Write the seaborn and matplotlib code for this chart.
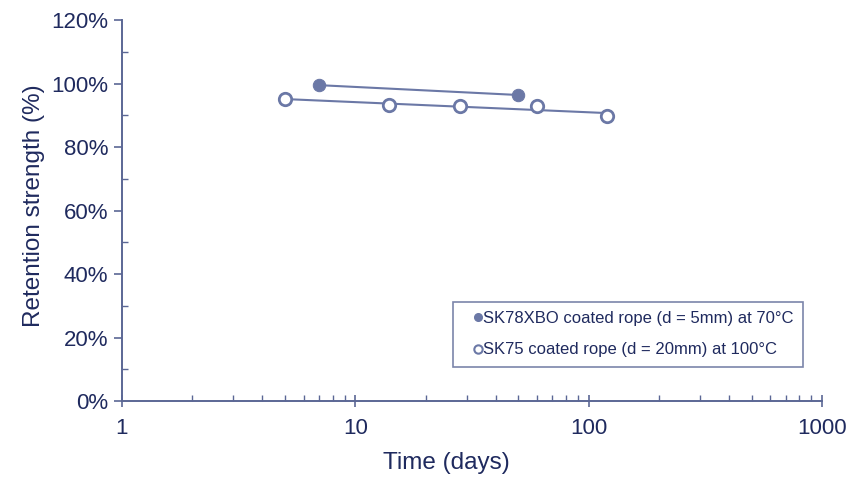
import matplotlib
matplotlib.use("Agg")
import matplotlib.pyplot as plt
import matplotlib.ticker as mticker
import seaborn as sns
import pandas as pd
import numpy as np

# Data
sk78_days = [7, 50]
sk78_retention = [99.5, 96.4]
sk75_days = [5, 14, 28, 60, 120]
sk75_retention = [95.1, 93.2, 92.9, 92.9, 89.8]

sk78_label = 'SK78XBO coated rope (d = 5mm) at 70°C'
sk75_label = 'SK75 coated rope (d = 20mm) at 100°C'

mark_color = '#6b78a6'
text_color = '#1f2a5e'
axis_color = '#5b6795'

sns.set_style("white")
plt.rcParams['font.family'] = ['Liberation Sans', 'DejaVu Sans']

sk78_df = pd.DataFrame({'days': sk78_days, 'retention': sk78_retention})
sk75_df = pd.DataFrame({'days': sk75_days, 'retention': sk75_retention})

fig = plt.figure(figsize=(8.67, 4.78), dpi=100)
ax = fig.add_axes([0.1407, 0.161, 0.8073, 0.797])

# Trend lines (fit on log time)
sns.regplot(data=sk78_df, x='days', y='retention', logx=True, ci=None,
            scatter=False, ax=ax, line_kws={'color': mark_color, 'lw': 1.5})
sns.regplot(data=sk75_df, x='days', y='retention', logx=True, ci=None,
            scatter=False, ax=ax, line_kws={'color': mark_color, 'lw': 1.5})

sns.scatterplot(data=sk78_df, x='days', y='retention', ax=ax, s=80,
                color=mark_color, edgecolor=mark_color, zorder=3)
sns.scatterplot(data=sk75_df, x='days', y='retention', ax=ax, s=80,
                facecolor='white', edgecolor=mark_color, linewidth=2.0, zorder=3)

ax.set_xscale('log')
ax.set_xlim(1, 1000)
ax.set_ylim(0, 120)
ax.xaxis.set_major_locator(mticker.FixedLocator([1, 10, 100, 1000]))
ax.xaxis.set_major_formatter(mticker.FixedFormatter(['1', '10', '100', '1000']))
ax.xaxis.set_minor_locator(mticker.LogLocator(base=10, subs=np.arange(2, 10), numticks=20))
ax.xaxis.set_minor_formatter(mticker.NullFormatter())
ax.yaxis.set_major_locator(mticker.MultipleLocator(20))
ax.yaxis.set_minor_locator(mticker.MultipleLocator(10))
ax.yaxis.set_major_formatter(mticker.FuncFormatter(lambda v, p: f'{v:.0f}%'))

for side in ['top', 'right']:
    ax.spines[side].set_visible(False)
for side in ['left', 'bottom']:
    ax.spines[side].set_color(axis_color)
    ax.spines[side].set_linewidth(1.4)

ax.tick_params(axis='both', which='major', colors=axis_color, labelcolor=text_color,
               labelsize=16, width=1.2, left=True, bottom=True)
ax.tick_params(axis='x', which='major', direction='inout', length=9, pad=8)
ax.tick_params(axis='y', which='major', direction='out', length=6, pad=4)
ax.tick_params(axis='both', which='minor', direction='in', length=4.5, width=1.0,
               colors=axis_color, left=True, bottom=True)

ax.set_xlabel('Time (days)', fontsize=17.5, color=text_color)
ax.xaxis.set_label_coords(0.463, -0.134)
ax.set_ylabel('Retention strength (%)', fontsize=17.5, color=text_color)
ax.yaxis.set_label_coords(-0.11, 0.514)

handles = [
    plt.Line2D([], [], ls='none', marker='o', ms=5.5, color=mark_color, label=sk78_label),
    plt.Line2D([], [], ls='none', marker='o', ms=6, mfc='white', mec=mark_color,
               mew=1.5, label=sk75_label),
]
leg = ax.legend(handles=handles, loc='upper left', bbox_to_anchor=(0.473, 0.260),
                frameon=True, fancybox=False, fontsize=12, handlelength=1.9,
                handletextpad=-0.65, borderpad=0.55, labelspacing=0.98,
                labelcolor=text_color, borderaxespad=0)
leg.get_frame().set_edgecolor(axis_color)
leg.get_frame().set_linewidth(1.2)

fig.savefig('out.png', dpi=100)
